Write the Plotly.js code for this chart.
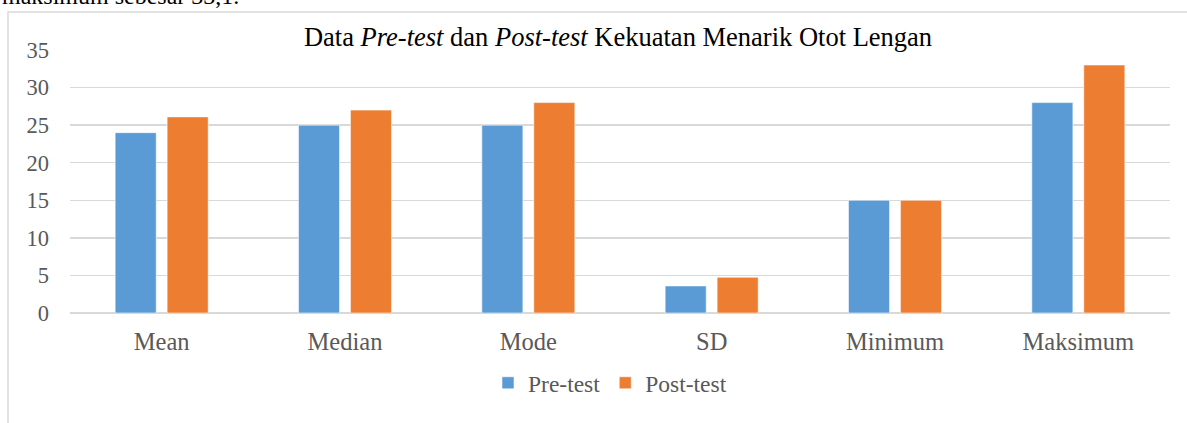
<!DOCTYPE html>
<html>
<head>
<meta charset="utf-8">
<script src="https://cdn.plot.ly/plotly-3.0.1.min.js"></script>
<style>
html,body{margin:0;padding:0;background:#fff;}
#chart{width:1187px;height:423px;}
</style>
</head>
<body>
<div id="chart"></div>
<script>
const categories = ["Mean", "Median", "Mode", "SD", "Minimum", "Maksimum"];
const preTest = [24.0, 25, 25, 3.6, 15, 28];
const postTest = [26.1, 27, 28, 4.75, 15, 33];
const seriesNames = ["Pre-test", "Post-test"];
const titleText = "Data <i>Pre-test</i> dan <i>Post-test</i> Kekuatan Menarik Otot Lengan";
const aboveText = "maksimum sebesar 33,1.";

const FONT = "Liberation Serif";
const W = 1187, H = 423;
const M = {l: 70, r: 17, t: 50, b: 110};
const pw = W - M.l - M.r, ph = H - M.t - M.b;
function px(x){ return (x - M.l) / pw; }
function py(y){ return (H - M.b - y) / ph; }

const traces = [
  {type: "bar", name: seriesNames[0], x: categories, y: preTest,
   marker: {color: "#5B9BD5", line: {color: "rgba(255,255,255,0.55)", width: 1}}},
  {type: "bar", name: seriesNames[1], x: categories, y: postTest,
   marker: {color: "#ED7D31", line: {color: "rgba(255,255,255,0.55)", width: 1}}}
];

const layout = {
  width: W, height: H,
  margin: M,
  paper_bgcolor: "#fff", plot_bgcolor: "#fff",
  font: {family: FONT, color: "#595959", size: 21},
  title: {text: titleText, font: {family: FONT, size: 26.5, color: "#000"},
          x: px(618), xref: "paper", xanchor: "center", y: 1 - 37/H, yanchor: "middle"},
  barmode: "group", bargap: 0.433, bargroupgap: 0.21,
  showlegend: true,
  legend: {orientation: "h", x: px(610), xanchor: "center", y: py(383), yanchor: "middle",
           font: {family: FONT, size: 23.5, color: "#595959"}, itemwidth: 30, traceorder: "normal"},
  xaxis: {showgrid: false, showline: false, ticks: "", zeroline: false, ticklabelstandoff: 11,
          tickfont: {family: FONT, size: 24.5, color: "#595959"}, automargin: false},
  yaxis: {range: [0, 35], dtick: 5, showgrid: true, gridcolor: "#D9D9D9", gridwidth: 1.5,
          zeroline: true, zerolinecolor: "#D9D9D9", zerolinewidth: 1.5, showline: false,
          ticks: "", ticklen: 0, ticklabelstandoff: 20, tickfont: {family: FONT, size: 22.5, color: "#595959"},
          automargin: false, fixedrange: true},
  shapes: [
    {type: "rect", xref: "paper", yref: "paper", x0: px(8), x1: px(1300), y0: py(12), y1: py(600),
     line: {color: "#D9D9D9", width: 1.5}, fillcolor: "rgba(0,0,0,0)", layer: "below"}
  ],
  annotations: [
    {text: aboveText, xref: "paper", yref: "paper", x: px(0), xanchor: "left",
     y: py(-4), yanchor: "middle", showarrow: false,
     font: {family: FONT, size: 24, color: "#000"}}
  ]
};

Plotly.newPlot("chart", traces, layout, {displayModeBar: false, staticPlot: true});
</script>
</body>
</html>
